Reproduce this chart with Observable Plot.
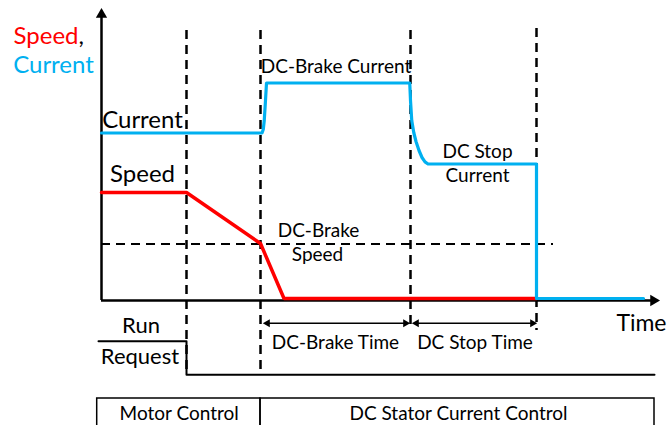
<!DOCTYPE html>
<html>
<head>
<meta charset="utf-8">
<script src="https://cdn.jsdelivr.net/npm/d3@7"></script>
<script src="https://cdn.jsdelivr.net/npm/@observablehq/plot@0.6"></script>
<style>
  html, body { margin: 0; padding: 0; background: #fff; }
  svg { display: block; }
</style>
</head>
<body>
<div id="chart"></div>
<script>
// Time events (arbitrary time units) and levels (arbitrary units)
const eventTimes = [1.7, 3.18, 6.18, 8.7];        // run off, brake speed reached, brake end, stop end
const eventTop = [135, 135, 135, 136];
const eventBottom = [-36, -36, -14, -15];
const axisEndT = 11.04;
const axisTopV = 143;

const currentT = [0, 3.21, 3.235, 3.255, 3.275, 3.30, 6.165, 6.18, 6.205, 6.245, 6.29, 6.35, 6.41, 6.47, 6.53, 8.70, 8.70, 10.84];
const currentV = [83.75, 83.75, 85.5, 90, 98, 108.75, 108.75, 100, 90, 84, 79.5, 75, 71.5, 69.3, 68.25, 68.25, 1, 1];

const speedT = [0, 1.7, 3.18, 3.65, 8.7];
const speedV = [54, 54, 28.5, 1, 1];

const brakeSpeedLevel = 28.25;
const brakeSpeedLineEnd = 9.04;

const runT = [-0.06, 1.7, 1.7, 11.06];
const runV = [-20.35, -20.35, -37.15, -37.15];

const spanLabels = ["DC-Brake Time", "DC Stop Time"];
const spanStart = [3.32, 6.30];
const spanEnd = [6.08, 8.62];
const spanLevel = -11.35;

const boxLabels = ["Motor Control", "DC Stator Current Control"];
const boxStart = [-0.086, 3.18];
const boxEnd = [3.18, 11.06];
const boxLabelT = [1.554, 7.14];
const boxTop = -49;
const boxBottom = -80;

const bigLabels = ["Current", "Speed"];
const bigLabelT = [0.82, 0.82];
const bigLabelV = [90, 63];

const runLabels = ["Run", "Request"];
const runLabelT = [0.79, 0.77];
const runLabelV = [-12.65, -28];

const timeLabel = "Time";
const timeLabelT = 11.3;
const timeLabelV = -11.5;

const smallLabels = ["DC-Brake Current", "DC Stop", "Current", "DC-Brake", "Speed", "DC-Brake Time", "DC Stop Time"];
const smallLabelT = [4.69, 7.52, 7.52, 4.34, 4.32, 4.68, 7.47];
const smallLabelV = [116.75, 74.25, 62.5, 34.75, 23, -21.25, -21.25];

const BLUE = "#00B0F0", RED = "#FF0000";
const FONT = "Lato, 'Open Sans', sans-serif";

const current = currentT.map((t, i) => ({t, v: currentV[i]}));
const speed = speedT.map((t, i) => ({t, v: speedV[i]}));
const run = runT.map((t, i) => ({t, v: runV[i]}));
const events = eventTimes.map((t, i) => ({t, top: eventTop[i], bottom: eventBottom[i]}));
const spans = spanLabels.map((s, i) => ({s, a: spanStart[i], b: spanEnd[i]}));
const boxes = boxLabels.map((s, i) => ({s, a: boxStart[i], b: boxEnd[i], lt: boxLabelT[i]}));
const big = bigLabels.map((s, i) => ({s, t: bigLabelT[i], v: bigLabelV[i]}));
const runText = runLabels.map((s, i) => ({s, t: runLabelT[i], v: runLabelV[i]}));
const small = smallLabels.map((s, i) => ({s, t: smallLabelT[i], v: smallLabelV[i]}));

const chart = Plot.plot({
  width: 668,
  height: 425,
  margin: 0,
  x: {domain: [-2.02, 11.34], axis: null},
  y: {domain: [-62.5, 150], axis: null},
  style: {fontFamily: FONT, background: "#fff"},
  marks: [
    // dashed event lines
    Plot.ruleX(events, {x: "t", y1: "top", y2: "bottom", stroke: "#000", strokeWidth: 2.5, strokeDasharray: "9,6"}),
    // brake speed threshold
    Plot.ruleY([brakeSpeedLevel], {x1: 0, x2: brakeSpeedLineEnd, stroke: "#000", strokeWidth: 2, strokeDasharray: "9,6"}),
    // axes
    Plot.ruleX([0], {y1: 0, y2: axisTopV, stroke: "#000", strokeWidth: 2.5}),
    Plot.ruleY([0], {x1: 0, x2: axisEndT, stroke: "#000", strokeWidth: 2.5}),
    Plot.dot([{t: 0, v: axisTopV}], {x: "t", y: "v", symbol: "triangle", r: 4.2, fill: "#000", stroke: null}),
    Plot.dot([{t: axisEndT, v: 0}], {x: "t", y: "v", symbol: "triangle", r: 4.2, rotate: 90, fill: "#000", stroke: null}),
    // series
    Plot.line(speed, {x: "t", y: "v", stroke: RED, strokeWidth: 3.5, strokeLinejoin: "miter"}),
    Plot.line(current, {x: "t", y: "v", stroke: BLUE, strokeWidth: 3.2}),
    // run request
    Plot.line(run, {x: "t", y: "v", stroke: "#000", strokeWidth: 2}),
    // span double arrows
    Plot.link(spans, {x1: "a", x2: "b", y1: spanLevel, y2: spanLevel, stroke: "#000", strokeWidth: 1.6}),
    Plot.dot(spans, {x: "a", y: spanLevel, symbol: "triangle", r: 3, rotate: -90, fill: "#000", stroke: null}),
    Plot.dot(spans, {x: "b", y: spanLevel, symbol: "triangle", r: 3, rotate: 90, fill: "#000", stroke: null}),
    // bottom boxes
    Plot.rect(boxes, {x1: "a", x2: "b", y1: boxTop, y2: boxBottom, fill: "none", stroke: "#000", strokeWidth: 1.5}),
    // labels
    Plot.text(["Speed"], {x: -0.46, y: 132.25, text: d => d, textAnchor: "end", fill: RED, fontSize: 24}),
    Plot.text([","], {x: -0.46, y: 132.25, text: d => d, textAnchor: "start", fill: "#000", fontSize: 24}),
    Plot.text(["Current"], {x: -0.96, y: 117.5, text: d => d, fill: BLUE, fontSize: 24}),
    Plot.text(big, {x: "t", y: "v", text: "s", fill: "#000", fontSize: 24}),
    Plot.text(runText, {x: "t", y: "v", text: "s", fill: "#000", fontSize: 22}),
    Plot.text([timeLabel], {x: timeLabelT, y: timeLabelV, text: d => d, textAnchor: "end", fill: "#000", fontSize: 23}),
    Plot.text(small, {x: "t", y: "v", text: "s", fill: "#000", fontSize: 19}),
    Plot.text(boxes, {x: "lt", y: -56.8, text: "s", fill: "#000", fontSize: 19})
  ]
});
document.getElementById("chart").appendChild(chart);
</script>
</body>
</html>
